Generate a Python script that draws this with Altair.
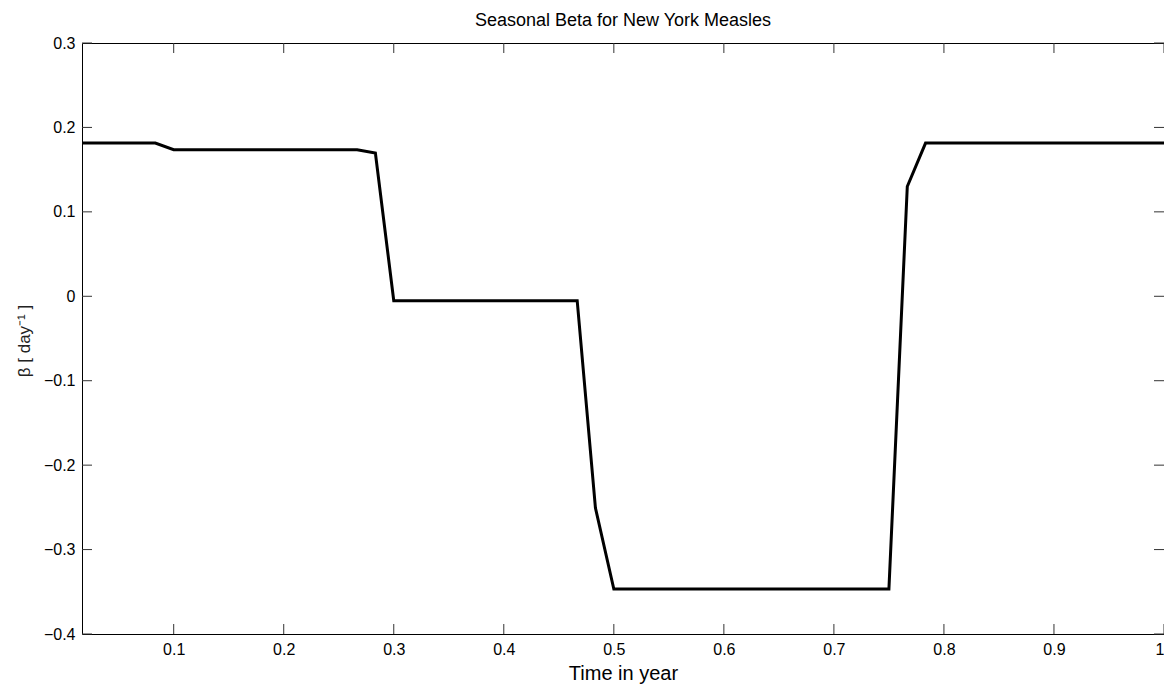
import altair as alt
import pandas as pd

# data
time_x = [1/60, 0.0833, 0.1, 0.2667, 0.2833, 0.3, 0.4667, 0.4833, 0.5, 0.75, 0.7667, 0.7833, 1.0]
beta_y = [0.1815, 0.1815, 0.1736, 0.1736, 0.1697, -0.0052, -0.0052, -0.2508, -0.3467, -0.3467, 0.130, 0.1815, 0.1815]
x_ticks = [0.1, 0.2, 0.3, 0.4, 0.5, 0.6, 0.7, 0.8, 0.9, 1.0]
y_ticks = [-0.4, -0.3, -0.2, -0.1, 0.0, 0.1, 0.2, 0.3]

W, H = 1082, 591
FONT = "Liberation Sans"

df = pd.DataFrame({"t": time_x, "b": beta_y})
dfx = pd.DataFrame({"tx": x_ticks})
dfy = pd.DataFrame({"ty": y_ticks})

xs = alt.Scale(domain=[1/60, 1.0], nice=False, zero=False)
ys = alt.Scale(domain=[-0.4, 0.3], nice=False, zero=False)

line = alt.Chart(df).mark_line(color="black", strokeWidth=3, strokeJoin="miter").encode(
    x=alt.X("t:Q", scale=xs,
            axis=alt.Axis(values=x_ticks, format="~g", ticks=False, domain=False, grid=False,
                          labelFont=FONT, labelFontSize=16, labelColor="black", labelPadding=7,
                          title="Time in year", titleFont=FONT, titleFontSize=20,
                          titleFontWeight="normal", titleColor="black",
                          titleBaseline="alphabetic", titleY=45, titleX=W / 2)),
    y=alt.Y("b:Q", scale=ys,
            axis=alt.Axis(values=y_ticks, format="~g", ticks=False, domain=False, grid=False,
                          labelFont=FONT, labelFontSize=16, labelColor="black", labelPadding=7,
                          title="β [ day⁻¹ ]", titleFont=FONT, titleFontSize=17,
                          titleFontWeight="normal", titleColor="#222222",
                          titleAngle=-90, titleBaseline="middle", titleX=-58, titleY=H / 2 + 2)),
)

tick_color = "#333333"
xb = alt.Chart(dfx).mark_rule(color=tick_color, strokeWidth=1).encode(
    x=alt.X("tx:Q", scale=xs), y=alt.value(H), y2=alt.value(H - 10))
xt = alt.Chart(dfx).mark_rule(color=tick_color, strokeWidth=1).encode(
    x=alt.X("tx:Q", scale=xs), y=alt.value(0), y2=alt.value(10))
yl = alt.Chart(dfy).mark_rule(color=tick_color, strokeWidth=1).encode(
    y=alt.Y("ty:Q", scale=ys), x=alt.value(0), x2=alt.value(10))
yr = alt.Chart(dfy).mark_rule(color=tick_color, strokeWidth=1).encode(
    y=alt.Y("ty:Q", scale=ys), x=alt.value(W), x2=alt.value(W - 10))

chart = alt.layer(xb, xt, yl, yr, line).properties(
    width=W, height=H,
    autosize=alt.AutoSizeParams(type="none"),
    padding={"left": 82, "top": 43, "right": 0, "bottom": 51},
    title=alt.TitleParams("Seasonal Beta for New York Measles", font=FONT, fontSize=18,
                          fontWeight="normal", color="black", anchor="middle",
                          baseline="alphabetic", offset=16, dy=25),
).configure(background="white").configure_view(stroke="black", strokeWidth=1)

chart.save("out.html", embed_options={"renderer": "svg", "actions": False})
